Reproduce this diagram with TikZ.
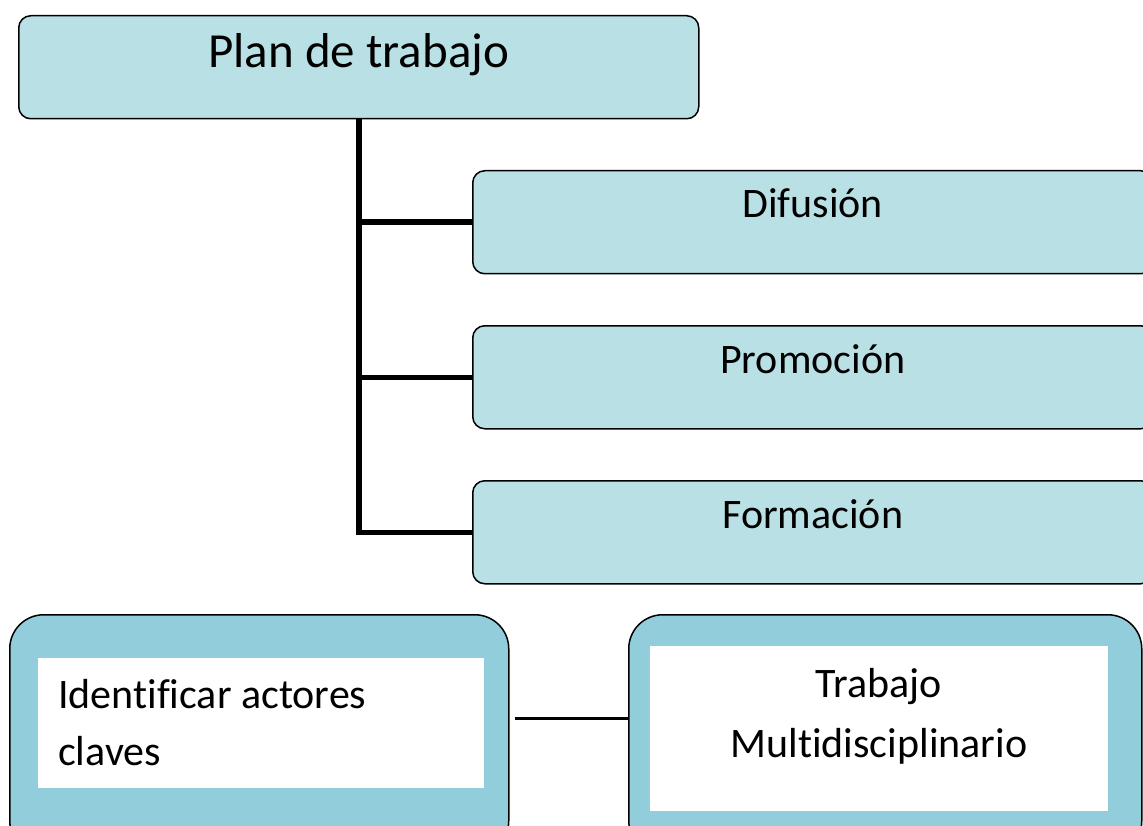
\documentclass[tikz,border=0pt]{standalone}
\usepackage{fontspec}
\setmainfont[Ligatures=NoCommon]{Carlito}
\usetikzlibrary{calc}
\begin{document}
\begin{tikzpicture}[x=1pt,y=-1pt,
  topbox/.style={draw=black, line width=1.5pt, fill=topfill, rounded corners=12pt,
    minimum width=680pt, minimum height=103pt, anchor=north west, inner sep=0pt},
  botbox/.style={draw=black, line width=1.5pt, fill=botfill, rounded corners=34pt,
    anchor=north west, inner sep=0pt},
  inner/.style={fill=white, anchor=north west, inner sep=0pt},
  big/.style={font=\fontsize{49}{60}\selectfont, anchor=base, inner sep=0pt},
  med/.style={font=\fontsize{42}{50}\selectfont, inner sep=0pt},
  conn/.style={draw=black, line width=5.5pt},
  thin/.style={draw=black, line width=3pt}
]
\definecolor{topfill}{HTML}{B9E0E4}
\definecolor{botfill}{HTML}{92CDDC}
\useasboundingbox (0,0) rectangle (1143,826);
\clip (0,0) rectangle (1143,826);

% top node
\node[topbox] (plan) at (18,15) {};
\node[big] (plant) at ($(plan.north)+(0,53)$) {Plan de trabajo};

% right boxes
\node[topbox] (dif) at (472,170) {};
\node[med, anchor=base] (dift) at ($(dif.north)+(0,48)$) {Difusión};
\node[topbox] (pro) at (472,325) {};
\node[med, anchor=base] (prot) at ($(pro.north)+(0,48)$) {Promoción};
\node[topbox] (for) at (472,480) {};
\node[med, anchor=base] (fort) at ($(for.north)+(0,48)$) {Formación};

% connectors
\draw[conn] (plan.south) |- (for.west);
\draw[conn] (plan.south |- dif.west) -- (dif.west);
\draw[conn] (plan.south |- pro.west) -- (pro.west);

% bottom boxes
\node[botbox, minimum width=499pt, minimum height=240pt] (lb) at (9,614) {};
\node[inner, minimum width=446pt, minimum height=130pt] (lbi) at (38,658) {};
\node[med, anchor=base west] (l1) at (58,708) {Identificar actores};
\node[med, anchor=base west] (l2) at (58,765) {claves};

\node[botbox, minimum width=513pt, minimum height=240pt] (rb) at (628,614) {};
\node[inner, minimum width=458pt, minimum height=165pt] (rbi) at (650,646) {};
\node[med, anchor=base] (r1) at (879,697) {Trabajo};
\node[med, anchor=base] (r2) at (879,757) {Multidisciplinario};

\coordinate (cy) at (0,718);
\draw[thin, shorten <=5pt] (lb.east |- cy) -- (rb.west |- cy);
\end{tikzpicture}
\end{document}
